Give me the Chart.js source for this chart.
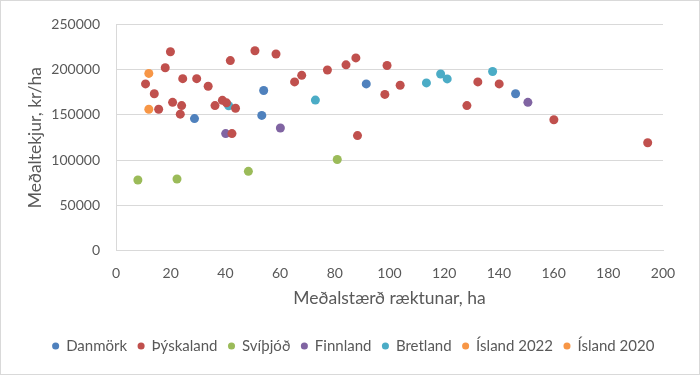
<!DOCTYPE html>
<html>
<head>
<meta charset="utf-8">
<script src="https://cdn.jsdelivr.net/npm/chart.js@4"></script>
<style>
  html, body { margin: 0; padding: 0; background: #fff; }
  #wrap { width: 700px; height: 375px; }
</style>
</head>
<body>
<div id="wrap"><canvas id="chart" width="700" height="375"></canvas></div>
<script>
const seriesNames = ["Danmörk", "Þýskaland", "Svíþjóð", "Finnland", "Bretland", "Ísland 2022", "Ísland 2020"];
const seriesColors = ["#4F81BD", "#C0504D", "#9BBB59", "#8064A2", "#4BACC6", "#F79646", "#F79646"];

const danmorkX = [28.7, 54.0, 53.3, 91.5, 146.1];
const danmorkY = [146000, 177000, 149500, 184300, 173400];

const thyskalandX = [19.9, 18.0, 10.8, 14.0, 24.4, 29.5, 33.7, 20.7, 24.0, 23.5, 15.6, 36.2, 38.9, 40.4, 43.7, 41.8, 50.8,
  58.5, 65.3, 67.9, 77.3, 84.1, 87.7, 99.1, 98.3, 103.9, 88.3, 42.4, 128.3, 132.3, 140.1, 160.1, 194.4];
const thyskalandY = [219800, 202100, 184300, 173400, 190100, 190100, 181700, 163900, 160300, 150900, 156300, 160300, 166100,
  163400, 157400, 210000, 220900, 217300, 186500, 193700, 199600, 205300, 213000, 204600, 172700, 182800, 127200, 129400,
  160300, 186500, 184300, 144700, 119300];

const svithjodX = [8.0, 22.3, 48.4, 80.9];
const svithjodY = [78200, 79300, 87700, 100800];

const finnlandX = [40.1, 60.1, 150.6];
const finnlandY = [129400, 135600, 163900];

const bretlandX = [41.2, 72.9, 113.5, 118.7, 121.1, 137.7];
const bretlandY = [160100, 166400, 185400, 195200, 189800, 198000];

const island2022X = [12.0];
const island2022Y = [195900];

const island2020X = [12.0];
const island2020Y = [156300];

const xTicks = [0, 20, 40, 60, 80, 100, 120, 140, 160, 180, 200];
const yTicks = [0, 50000, 100000, 150000, 200000, 250000];

const allX = [danmorkX, thyskalandX, svithjodX, finnlandX, bretlandX, island2022X, island2020X];
const allY = [danmorkY, thyskalandY, svithjodY, finnlandY, bretlandY, island2022Y, island2020Y];

const grey = "#595959";
const gridGrey = "#d9d9d9";

const datasets = seriesNames.map((name, i) => ({
  label: name,
  data: allX[i].map((x, j) => ({ x: x, y: allY[i][j] })),
  backgroundColor: seriesColors[i],
  borderColor: seriesColors[i],
  borderWidth: 0,
  pointRadius: 4.5,
  pointHoverRadius: 4.5
}));

const borderPlugin = {
  id: "frame",
  afterDraw(chart) {
    const c = chart.ctx;
    c.save();
    c.strokeStyle = gridGrey;
    c.lineWidth = 1;
    c.strokeRect(0.5, 0.5, chart.width - 1, chart.height - 1);
    c.restore();
  }
};

// legend is centred on the whole picture, not on the plot box
const legendShift = {
  id: "legendShift",
  afterUpdate(chart) {
    chart.legend.left += 22;
    chart.legend.right += 22;
  }
};

Chart.defaults.font.family = "Lato, 'Open Sans', sans-serif";
Chart.defaults.color = grey;

new Chart(document.getElementById("chart"), {
  type: "scatter",
  data: { datasets: datasets },
  plugins: [borderPlugin, legendShift],
  options: {
    responsive: false,
    animation: false,
    layout: { padding: { top: 20, right: 37, bottom: 11.5, left: 0 } },
    plugins: {
      tooltip: { enabled: false },
      legend: {
        position: "bottom",
        labels: {
          usePointStyle: true,
          pointStyle: "circle",
          boxWidth: 6,
          boxHeight: 5,
          padding: 11,
          color: grey,
          font: { size: 15 }
        }
      }
    },
    scales: {
      x: {
        type: "linear",
        min: 0,
        max: 200,
        afterBuildTicks(scale) { scale.ticks = xTicks.map(v => ({ value: v })); },
        afterFit(scale) { scale.height = 76.75; },
        grid: { display: false, drawTicks: false },
        border: { display: true, color: gridGrey },
        ticks: { padding: 14, font: { size: 14 }, color: grey, maxRotation: 0 },
        title: { display: true, text: "Meðalstærð ræktunar, ha", font: { size: 17.5 }, color: grey, padding: { top: 0, bottom: 18.5 } }
      },
      y: {
        type: "linear",
        min: 0,
        max: 250000,
        afterBuildTicks(scale) { scale.ticks = yTicks.map(v => ({ value: v })); },
        afterFit(scale) { scale.width = 116; },
        grid: { color: gridGrey, drawTicks: false },
        border: { display: true, color: gridGrey },
        ticks: { padding: 16, font: { size: 14 }, color: grey, callback: v => String(v) },
        title: { display: true, text: "Meðaltekjur, kr/ha", font: { size: 17.5 }, color: grey, padding: { top: 25, bottom: 0 } }
      }
    }
  }
});
</script>
</body>
</html>
